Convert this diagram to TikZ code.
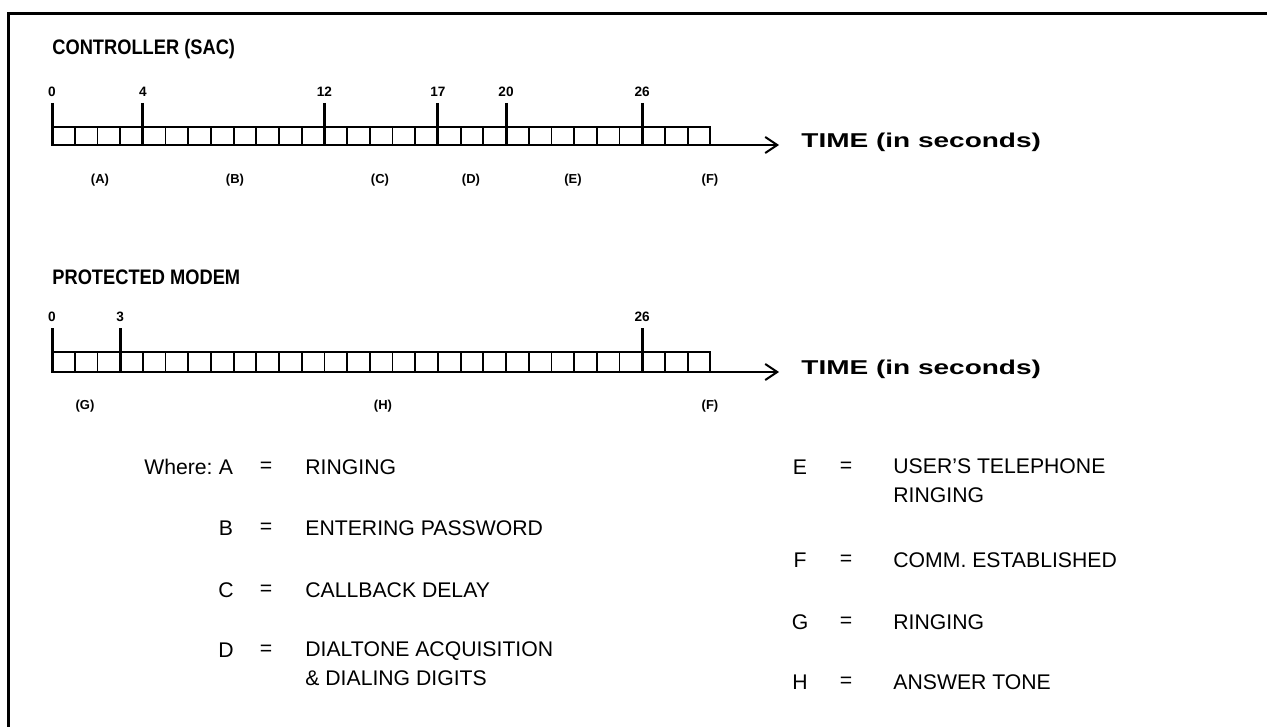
\documentclass[tikz,border=0pt]{standalone}
\usepackage{fontspec}
\setmainfont{Liberation Sans}
\newfontfamily\timefont[FakeStretch=1.4]{Liberation Sans Bold}
\newfontfamily\headfont[FakeStretch=0.87]{Liberation Sans Bold}
\usetikzlibrary{arrows.meta}
\tikzset{
  frame/.style={line width=1.5pt},
  cell/.style={line width=0.9pt},
  major/.style={line width=1.5pt},
  axis/.style={line width=0.9pt,-{Straight Barb[length=6pt,width=8pt,line width=1pt]}},
  head/.style={font=\headfont\fontsize{10.5}{12}\selectfont,anchor=west,inner sep=0pt},
  tlabel/.style={font=\timefont\fontsize{10}{12}\selectfont,anchor=west,inner sep=0pt},
  num/.style={font=\bfseries\fontsize{6.8}{8}\selectfont,inner sep=0pt},
  seg/.style={font=\bfseries\fontsize{6.5}{8}\selectfont,inner sep=0pt},
  leg/.style={font=\fontsize{10.6}{14.5}\selectfont,inner sep=0pt},
  legl/.style={leg,anchor=west,align=left},
}
\begin{document}
\begin{tikzpicture}[x=0.5pt,y=-0.5pt]
\useasboundingbox (0,0) rectangle (1267,727);
\draw[frame] (8,727) -- (8,14) -- (1267,14);

% ---------- Controller timeline ----------
\node[head] (h1) at (52,49) {CONTROLLER (SAC)};
\draw[cell] (52,127) rectangle ({52+29*22.7},145);
\foreach \i in {1,...,28} \draw[cell] ({52+\i*22.7},127) -- ({52+\i*22.7},145);
\foreach \t in {0,4,12,17,20,26} {
  \draw[major] ({52+\t*22.7},103) -- ({52+\t*22.7},145);
  \node[num] (c\t) at ({52+\t*22.7},92) {\t};
}
\coordinate (e1) at ({52+29*22.7},145);
\coordinate (a1) at (779,145);
\draw[axis] (e1) -- (a1);
\node[tlabel] (t1) at (801,142) {TIME (in seconds)};
\node[seg] (sA) at (100,180) {(A)};
\node[seg] (sB) at (235,180) {(B)};
\node[seg] (sC) at (380,180) {(C)};
\node[seg] (sD) at (471,180) {(D)};
\node[seg] (sE) at (573,180) {(E)};
\node[seg] (sF) at (710,180) {(F)};

% ---------- Protected modem timeline ----------
\node[head] (h2) at (52,277) {PROTECTED MODEM};
\draw[cell] (52,352) rectangle ({52+29*22.7},372);
\foreach \i in {1,...,28} \draw[cell] ({52+\i*22.7},352) -- ({52+\i*22.7},372);
\foreach \t in {0,3,26} {
  \draw[major] ({52+\t*22.7},328) -- ({52+\t*22.7},372);
  \node[num] (m\t) at ({52+\t*22.7},317) {\t};
}
\coordinate (e2) at ({52+29*22.7},372);
\coordinate (a2) at (779,372);
\draw[axis] (e2) -- (a2);
\node[tlabel] (t2) at (801,369) {TIME (in seconds)};
\node[seg] (sG) at (85,406) {(G)};
\node[seg] (sH) at (383,406) {(H)};
\node[seg] (sF2) at (710,406) {(F)};

% ---------- Legend ----------
\node[leg,anchor=east] (where) at (213,467) {Where:};
\node[leg] (lA) at (226,467) {A};
\node[leg] (qA) at (266,467) {=};
\node[legl] (dA) at (305,467) {RINGING};
\node[leg] (lB) at (226,528) {B};
\node[leg] (qB) at (266,528) {=};
\node[legl] (dB) at (305,528) {ENTERING PASSWORD};
\node[leg] (lC) at (226,590) {C};
\node[leg] (qC) at (266,590) {=};
\node[legl] (dC) at (305,590) {CALLBACK DELAY};
\node[leg] (lD) at (226,650) {D};
\node[leg] (qD) at (266,650) {=};
\node[legl,anchor=north west] (dD) at (305,641) {DIALTONE ACQUISITION\\\& DIALING DIGITS};

\node[leg] (lE) at (800,467) {E};
\node[leg] (qE) at (846,467) {=};
\node[legl,anchor=north west] (dE) at (893,458) {USER'S TELEPHONE\\RINGING};
\node[leg] (lF) at (800,560) {F};
\node[leg] (qF) at (846,560) {=};
\node[legl] (dF) at (893,560) {COMM. ESTABLISHED};
\node[leg] (lG) at (800,622) {G};
\node[leg] (qG) at (846,622) {=};
\node[legl] (dG) at (893,622) {RINGING};
\node[leg] (lH) at (800,682) {H};
\node[leg] (qH) at (846,682) {=};
\node[legl] (dH) at (893,682) {ANSWER TONE};
\end{tikzpicture}
\end{document}
